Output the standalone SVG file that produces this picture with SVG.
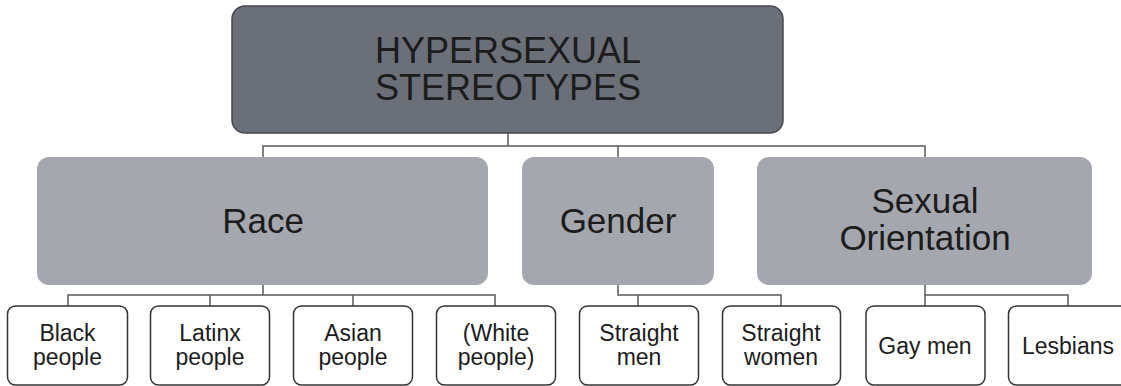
<svg xmlns="http://www.w3.org/2000/svg" width="1121" height="386" viewBox="0 0 1121 386">
<style>
  .top { fill: #6a6f78; stroke: #45484e; stroke-width: 1.5; }
  .mid { fill: #a4a7ae; stroke: none; }
  .leaf { fill: #ffffff; stroke: #333333; stroke-width: 1.5; }
  .conn { fill: none; stroke: #5a5a5a; stroke-width: 1.5; }
  text { font-family: "Liberation Sans", Arial, sans-serif; fill: #1c1c1c; text-anchor: middle; }
  .t1 { font-size: 36px; }
  .t2 { font-size: 35px; }
  .t3 { font-size: 23px; }
</style>
<rect width="1121" height="386" fill="#ffffff"/>
<g id="connectors">
  <path class="conn" d="M508,133 V146 M263,157 V146 H925 V157 M618,146 V157"/>
  <path class="conn" d="M263,285 V295 M68,306 V295 H495 V306 M210,295 V306 M353,295 V306"/>
  <path class="conn" d="M618,285 V295 H781 V306 M638,295 V306"/>
  <path class="conn" d="M925,285 V306 M925,295 H1068 V306"/>
</g>
<g id="node-root">
  <rect class="top" x="232" y="6" width="551" height="127" rx="13"/>
  <text class="t1" x="508" y="63">HYPERSEXUAL</text>
  <text class="t1" x="508" y="100">STEREOTYPES</text>
</g>
<g id="node-race">
  <rect class="mid" x="37" y="157" width="451" height="128" rx="12"/>
  <text class="t2" x="263" y="233">Race</text>
</g>
<g id="node-gender">
  <rect class="mid" x="522" y="157" width="192" height="128" rx="12"/>
  <text class="t2" x="618" y="233">Gender</text>
</g>
<g id="node-orientation">
  <rect class="mid" x="757" y="157" width="335" height="128" rx="12"/>
  <text class="t2" x="925" y="213">Sexual</text>
  <text class="t2" x="925" y="250">Orientation</text>
</g>
<g id="node-black">
  <rect class="leaf" x="7.5" y="306" width="120" height="79" rx="8"/>
  <text class="t3" x="67.5" y="341">Black</text>
  <text class="t3" x="67.5" y="365">people</text>
</g>
<g id="node-latinx">
  <rect class="leaf" x="150.5" y="306" width="119" height="79" rx="8"/>
  <text class="t3" x="210" y="341">Latinx</text>
  <text class="t3" x="210" y="365">people</text>
</g>
<g id="node-asian">
  <rect class="leaf" x="293.5" y="306" width="119" height="79" rx="8"/>
  <text class="t3" x="353" y="341">Asian</text>
  <text class="t3" x="353" y="365">people</text>
</g>
<g id="node-white">
  <rect class="leaf" x="436.5" y="306" width="119" height="79" rx="8"/>
  <text class="t3" x="496" y="341">(White</text>
  <text class="t3" x="496" y="365">people)</text>
</g>
<g id="node-straight-men">
  <rect class="leaf" x="579.5" y="306" width="119" height="79" rx="8"/>
  <text class="t3" x="639" y="341">Straight</text>
  <text class="t3" x="639" y="365">men</text>
</g>
<g id="node-straight-women">
  <rect class="leaf" x="722.5" y="306" width="118" height="79" rx="8"/>
  <text class="t3" x="781" y="341">Straight</text>
  <text class="t3" x="781" y="365">women</text>
</g>
<g id="node-gay-men">
  <rect class="leaf" x="866" y="306" width="119" height="79" rx="8"/>
  <text class="t3" x="925" y="354">Gay men</text>
</g>
<g id="node-lesbians">
  <rect class="leaf" x="1008.5" y="306" width="120" height="79" rx="8"/>
  <text class="t3" x="1068" y="354">Lesbians</text>
</g>
</svg>
